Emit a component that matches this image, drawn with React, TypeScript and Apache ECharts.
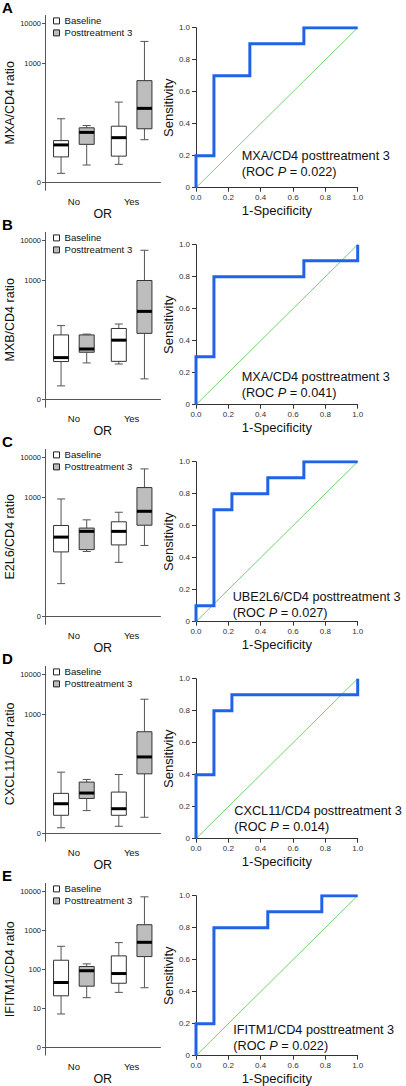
import React, { useEffect, useRef } from 'react';
import * as echarts from 'echarts';

// ---------- DATA ----------
const categories = ['No', 'Yes'];
const groupNames = ['Baseline', 'Posttreatment 3'];
const panelLetters = ['A', 'B', 'C', 'D', 'E'];
const ratioTitles = ['MXA/CD4 ratio', 'MXB/CD4 ratio', 'E2L6/CD4 ratio', 'CXCL11/CD4 ratio', 'IFITM1/CD4 ratio'];
const rocTitles = [
  'MXA/CD4 posttreatment 3',
  'MXA/CD4 posttreatment 3',
  'UBE2L6/CD4 posttreatment 3',
  'CXCL11/CD4 posttreatment 3',
  'IFITM1/CD4 posttreatment 3',
];
const rocPValues = ['0.022', '0.041', '0.027', '0.014', '0.022'];

// box stats per OR category: [min, Q1, median, Q3, max] (ratio)
const mxaBaseline = [[1.7, 4.4, 8.8, 11.3, 40], [2.86, 4.6, 13.4, 26, 105]];
const mxaPost = [[2.75, 9.1, 18.2, 23.7, 27], [11.9, 22.4, 73, 363, 3515]];
const mxbBaseline = [[2.2, 9, 11.3, 42, 72], [7.8, 9.1, 31, 61, 79]];
const mxbPost = [[8.3, 15.4, 18.6, 42, 44], [3.3, 46, 164, 980, 5640]];
const e2l6Baseline = [[6.7, 42, 99, 194, 900], [23, 63, 138, 240, 417]];
const e2l6Post = [[43, 48, 138, 167, 269], [61, 197, 441, 1740, 5130]];
const cxcl11Baseline = [[1.39, 2.87, 5.6, 10.2, 34.8], [1.52, 2.87, 4.2, 11, 30.4]];
const cxcl11Post = [[3.76, 7.6, 10.4, 19.6, 22.8], [2.56, 31.6, 84, 361, 2370]];
const ifitm1Baseline = [[7.2, 21, 46, 171, 389], [25.7, 44, 78, 221, 483]];
const ifitm1Post = [[18.8, 37, 92, 118, 138], [33.8, 212, 492, 1387, 7180]];

// y-axis ticks of the box panels (ratio value -> label)
const sparseTickValues = [1, 1000, 10000];
const sparseTickLabels = ['0', '1000', '10000'];
const fullTickValues = [1, 10, 100, 1000, 10000];
const fullTickLabels = ['0', '10', '100', '1000', '10000'];

// ROC curve vertices (1-specificity, sensitivity)
const mxaRocFpr = [0, 0, 0.111, 0.111, 0.333, 0.333, 0.667, 0.667, 1];
const mxaRocTpr = [0, 0.2, 0.2, 0.7, 0.7, 0.9, 0.9, 1, 1];
const mxbRocFpr = [0, 0, 0.111, 0.111, 0.667, 0.667, 1, 1];
const mxbRocTpr = [0, 0.3, 0.3, 0.8, 0.8, 0.9, 0.9, 1];
const ube2l6RocFpr = [0, 0, 0.111, 0.111, 0.222, 0.222, 0.444, 0.444, 0.667, 0.667, 1];
const ube2l6RocTpr = [0, 0.1, 0.1, 0.7, 0.7, 0.8, 0.8, 0.9, 0.9, 1, 1];
const cxcl11RocFpr = [0, 0, 0.111, 0.111, 0.222, 0.222, 1, 1];
const cxcl11RocTpr = [0, 0.4, 0.4, 0.8, 0.8, 0.9, 0.9, 1];
const ifitm1RocFpr = [0, 0, 0.111, 0.111, 0.444, 0.444, 0.778, 0.778, 1];
const ifitm1RocTpr = [0, 0.2, 0.2, 0.8, 0.8, 0.9, 0.9, 1, 1];

const panels = [
  { baseline: mxaBaseline, post: mxaPost, tv: sparseTickValues, tl: sparseTickLabels, fpr: mxaRocFpr, tpr: mxaRocTpr },
  { baseline: mxbBaseline, post: mxbPost, tv: sparseTickValues, tl: sparseTickLabels, fpr: mxbRocFpr, tpr: mxbRocTpr },
  { baseline: e2l6Baseline, post: e2l6Post, tv: sparseTickValues, tl: sparseTickLabels, fpr: ube2l6RocFpr, tpr: ube2l6RocTpr },
  { baseline: cxcl11Baseline, post: cxcl11Post, tv: sparseTickValues, tl: sparseTickLabels, fpr: cxcl11RocFpr, tpr: cxcl11RocTpr },
  { baseline: ifitm1Baseline, post: ifitm1Post, tv: fullTickValues, tl: fullTickLabels, fpr: ifitm1RocFpr, tpr: ifitm1RocTpr },
];

// ---------- LAYOUT ----------
const FONT = '"Liberation Sans", Arial, Helvetica, sans-serif';
const ROW_GAP = 217;
const ROC_TOP0 = 27.7;
const annoX = [241.7, 241.7, 232.7, 234.3, 233.3];
const annoDy = [128, 132, 135, 132.5, 134];
const BOX_FILLS = ['#ffffff', '#bdbdbd'];
const LOG_MIN = -0.196;
const LOG_MAX = 4.2;

function makeBoxRender(side: number, fill: string) {
  return (params: any, api: any) => {
    const ci = api.value(0);
    const band = api.size([1, 0])[0];
    const cx = api.coord([ci, 0])[0] + side * band * 0.222;
    const y = (d: number) => api.coord([ci, api.value(d)])[1];
    const yMin = y(1), yQ1 = y(2), yMed = y(3), yQ3 = y(4), yMax = y(5);
    const bw = band * 0.26;
    const cap = band * 0.14;
    const ws = { stroke: '#555', lineWidth: 1 };
    return {
      type: 'group',
      children: [
        { type: 'line', shape: { x1: cx, y1: yMax, x2: cx, y2: yQ3 }, style: ws },
        { type: 'line', shape: { x1: cx, y1: yQ1, x2: cx, y2: yMin }, style: ws },
        { type: 'line', shape: { x1: cx - cap / 2, y1: yMax, x2: cx + cap / 2, y2: yMax }, style: ws },
        { type: 'line', shape: { x1: cx - cap / 2, y1: yMin, x2: cx + cap / 2, y2: yMin }, style: ws },
        { type: 'rect', shape: { x: cx - bw / 2, y: yQ3, width: bw, height: yQ1 - yQ3 }, style: { fill, stroke: '#333', lineWidth: 1 } },
        { type: 'line', shape: { x1: cx - bw / 2, y1: yMed, x2: cx + bw / 2, y2: yMed }, style: { stroke: '#000', lineWidth: 3 } },
      ],
    };
  };
}

function buildOption() {
  const grid: any[] = [];
  const xAxis: any[] = [];
  const yAxis: any[] = [];
  const series: any[] = [];
  const legend: any[] = [];
  const graphic: any[] = [];

  panels.forEach((p, i) => {
    const rocTop = ROC_TOP0 + ROW_GAP * i;
    const bi = 2 * i;
    const ri = 2 * i + 1;
    grid.push({ left: 45, width: 115.5, top: rocTop - 12.3, height: 174.9 });
    grid.push({ left: 196, width: 161.7, top: rocTop, height: 160 });

    xAxis.push({
      gridIndex: bi,
      type: 'category',
      data: categories,
      boundaryGap: true,
      axisTick: { show: false },
      axisLine: { lineStyle: { color: '#555', width: 1 } },
      axisLabel: { fontSize: 9.5, margin: 6, color: '#111', fontFamily: FONT },
      name: 'OR',
      nameLocation: 'middle',
      nameGap: 16,
      nameTextStyle: { fontSize: 12.5, color: '#111', fontFamily: FONT },
    });
    const logTicks = p.tv.map((v) => Math.log10(v));
    yAxis.push({
      gridIndex: bi,
      type: 'value',
      min: LOG_MIN,
      max: LOG_MAX,
      splitLine: { show: false },
      axisLine: { show: true, lineStyle: { color: '#555', width: 1 } },
      axisTick: { show: true, length: 3, customValues: logTicks, lineStyle: { color: '#555' } },
      axisLabel: {
        customValues: logTicks,
        fontSize: 7.5,
        margin: 4,
        color: '#222',
        fontFamily: FONT,
        formatter: (v: number) => {
          const k = logTicks.findIndex((t) => Math.abs(t - v) < 1e-6);
          return k >= 0 ? p.tl[k] : '';
        },
      },
      name: ratioTitles[i],
      nameLocation: 'middle',
      nameRotate: 90,
      nameGap: 29,
      nameTextStyle: { fontSize: 12.5, color: '#111', fontFamily: FONT },
    });

    xAxis.push({
      gridIndex: ri,
      type: 'value',
      min: 0,
      max: 1,
      interval: 0.2,
      splitLine: { show: false },
      axisLine: { lineStyle: { color: '#333', width: 1 } },
      axisTick: { show: true, length: 4, lineStyle: { color: '#333' } },
      axisLabel: { fontSize: 8, margin: 6, color: '#333', fontFamily: FONT, formatter: (v: number) => v.toFixed(1) },
      name: '1-Specificity',
      nameLocation: 'middle',
      nameGap: 16,
      nameTextStyle: { fontSize: 13, color: '#111', fontFamily: FONT },
    });
    yAxis.push({
      gridIndex: ri,
      type: 'value',
      min: 0,
      max: 1,
      interval: 0.2,
      splitLine: { show: false },
      axisLine: { show: true, lineStyle: { color: '#333', width: 1 } },
      axisTick: { show: true, length: 4, lineStyle: { color: '#333' } },
      axisLabel: { fontSize: 8, margin: 6, color: '#333', fontFamily: FONT, formatter: (v: number) => (v === 0 ? '0' : v.toFixed(1)) },
      name: 'Sensitivity',
      nameLocation: 'middle',
      nameRotate: 90,
      nameGap: 19.5,
      nameTextStyle: { fontSize: 13, color: '#111', fontFamily: FONT },
    });

    [p.baseline, p.post].forEach((stats, g) => {
      series.push({
        type: 'custom',
        name: groupNames[g],
        xAxisIndex: bi,
        yAxisIndex: bi,
        itemStyle: { color: BOX_FILLS[g], borderColor: '#222' },
        encode: { x: 0, y: [1, 2, 3, 4, 5] },
        renderItem: makeBoxRender(g === 0 ? -1 : 1, BOX_FILLS[g]),
        data: stats.map((s, ci) => [ci, ...s.map((v) => Math.log10(v))]),
        silent: true,
      });
    });

    series.push({
      type: 'line',
      xAxisIndex: ri,
      yAxisIndex: ri,
      data: [[0, 0], [1, 1]],
      symbol: 'none',
      silent: true,
      lineStyle: { color: '#6fd46f', width: 1 },
      z: 2,
    });
    series.push({
      type: 'line',
      xAxisIndex: ri,
      yAxisIndex: ri,
      data: p.fpr.map((f, k) => [f, p.tpr[k]]),
      symbol: 'none',
      silent: true,
      lineStyle: { color: '#1f63e6', width: 3, join: 'miter', cap: 'butt' },
      z: 3,
    });

    legend.push({
      left: 53,
      top: rocTop - 11.8,
      orient: 'vertical',
      itemWidth: 6,
      itemHeight: 6,
      itemGap: 2,
      padding: 0,
      selectedMode: false,
      textStyle: { fontSize: 9.6, color: '#111', fontFamily: FONT },
      data: [
        { name: groupNames[0], icon: 'rect', itemStyle: { color: BOX_FILLS[0], borderColor: '#222', borderWidth: 1 } },
        { name: groupNames[1], icon: 'rect', itemStyle: { color: BOX_FILLS[1], borderColor: '#222', borderWidth: 1 } },
      ],
    });

    graphic.push({
      type: 'text',
      left: 2,
      top: rocTop - 28,
      style: { text: panelLetters[i], font: `bold 15px ${FONT}`, fill: '#000' },
    });
    graphic.push({
      type: 'text',
      x: annoX[i],
      y: rocTop + annoDy[i] + 8,
      style: {
        text: `{a|${rocTitles[i]}}\n{a|(ROC }{i|P}{a| = ${rocPValues[i]})}`,
        verticalAlign: 'middle',
        align: 'left',
        rich: {
          a: { fontSize: 12.7, fontFamily: FONT, fill: '#111', lineHeight: 16 },
          i: { fontSize: 12.7, fontFamily: FONT, fontStyle: 'italic', fill: '#111', lineHeight: 16 },
        },
      },
    });
  });

  return {
    animation: false,
    backgroundColor: '#ffffff',
    grid,
    xAxis,
    yAxis,
    series,
    legend,
    graphic,
  };
}

export default function App() {
  const ref = useRef<HTMLDivElement>(null);
  useEffect(() => {
    document.body.style.margin = '0';
    if (!ref.current) return;
    const chart = echarts.init(ref.current, undefined, { renderer: 'svg' });
    chart.setOption(buildOption() as any);
    return () => chart.dispose();
  }, []);
  return <div ref={ref} style={{ width: 406, height: 1086 }} />;
}
